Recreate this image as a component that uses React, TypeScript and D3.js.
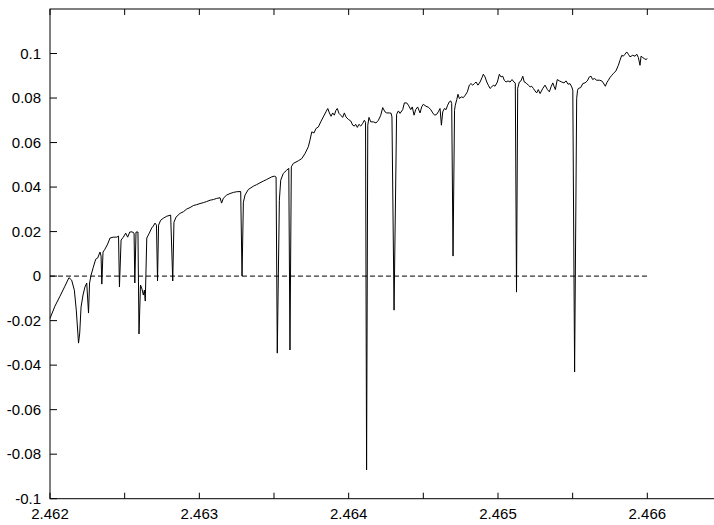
import React from 'react';
import * as d3 from 'd3';

// frequency (x) vs signal (y)
const spectrum: [number, number][] = [
  [2.462000, -0.0190], [2.462033, -0.0135], [2.462067, -0.0090], [2.462100, -0.0045],
  [2.462127, -0.0007], [2.462145, -0.0018], [2.462163, -0.0063], [2.462176, -0.0153],
  [2.462191, -0.0301], [2.462199, -0.0256], [2.462208, -0.0139], [2.462221, -0.0085],
  [2.462234, -0.0049], [2.462246, -0.0031], [2.462258, -0.0166], [2.462265, -0.0031],
  [2.462275, 0.0004], [2.462290, 0.0040], [2.462306, 0.0076], [2.462319, 0.0081],
  [2.462335, 0.0108], [2.462342, 0.0090], [2.462347, -0.0036], [2.462355, 0.0108],
  [2.462368, 0.0121], [2.462386, 0.0144], [2.462402, 0.0171], [2.462424, 0.0175],
  [2.462447, 0.0175], [2.462459, 0.0180], [2.462465, -0.0049], [2.462476, 0.0162],
  [2.462491, 0.0175], [2.462507, 0.0193], [2.462520, 0.0175], [2.462534, 0.0198],
  [2.462549, 0.0199], [2.462563, 0.0193], [2.462568, -0.0031], [2.462576, 0.0198],
  [2.462589, 0.0198], [2.462596, -0.0260], [2.462606, -0.0040], [2.462616, -0.0058],
  [2.462625, -0.0085], [2.462632, -0.0063], [2.462638, -0.0112], [2.462648, 0.0171],
  [2.462665, 0.0193], [2.462681, 0.0216], [2.462692, 0.0225], [2.462703, 0.0238],
  [2.462713, 0.0229], [2.462720, -0.0022], [2.462727, 0.0229], [2.462741, 0.0251],
  [2.462759, 0.0260], [2.462782, 0.0269], [2.462808, 0.0274], [2.462822, -0.0022],
  [2.462830, 0.0242], [2.462844, 0.0265], [2.462871, 0.0282], [2.462893, 0.0289],
  [2.462915, 0.0301], [2.462938, 0.0308], [2.462960, 0.0317], [2.462982, 0.0321],
  [2.463005, 0.0326], [2.463027, 0.0330], [2.463049, 0.0335], [2.463072, 0.0341],
  [2.463094, 0.0344], [2.463116, 0.0349], [2.463139, 0.0352], [2.463149, 0.0328],
  [2.463161, 0.0350], [2.463183, 0.0364], [2.463206, 0.0371], [2.463228, 0.0376],
  [2.463250, 0.0379], [2.463277, 0.0380], [2.463286, 0.0000], [2.463295, 0.0332],
  [2.463306, 0.0364], [2.463328, 0.0389], [2.463362, 0.0404], [2.463384, 0.0411],
  [2.463406, 0.0419], [2.463429, 0.0427], [2.463451, 0.0434], [2.463485, 0.0446],
  [2.463502, 0.0449], [2.463514, 0.0445], [2.463522, -0.0346], [2.463536, 0.0341],
  [2.463545, 0.0431], [2.463562, 0.0461], [2.463585, 0.0476], [2.463599, 0.0484],
  [2.463607, -0.0332], [2.463616, 0.0491], [2.463629, 0.0506], [2.463663, 0.0518],
  [2.463686, 0.0528], [2.463708, 0.0551], [2.463730, 0.0581], [2.463741, 0.0611],
  [2.463753, 0.0648], [2.463768, 0.0643], [2.463781, 0.0663], [2.463797, 0.0670],
  [2.463813, 0.0693], [2.463830, 0.0715], [2.463848, 0.0738], [2.463860, 0.0753],
  [2.463871, 0.0733], [2.463882, 0.0718], [2.463893, 0.0733], [2.463904, 0.0723],
  [2.463915, 0.0745], [2.463924, 0.0753], [2.463935, 0.0731], [2.463947, 0.0723],
  [2.463960, 0.0713], [2.463971, 0.0733], [2.463982, 0.0715], [2.463998, 0.0704],
  [2.464014, 0.0697], [2.464027, 0.0678], [2.464038, 0.0674], [2.464047, 0.0682],
  [2.464058, 0.0668], [2.464069, 0.0682], [2.464081, 0.0674], [2.464094, 0.0686],
  [2.464105, 0.0700], [2.464113, 0.0691], [2.464120, -0.0871], [2.464128, 0.0678],
  [2.464136, 0.0713], [2.464148, 0.0693], [2.464165, 0.0693], [2.464183, 0.0688],
  [2.464199, 0.0700], [2.464215, 0.0723], [2.464228, 0.0757], [2.464243, 0.0738],
  [2.464255, 0.0733], [2.464272, 0.0733], [2.464284, 0.0732], [2.464290, 0.0715],
  [2.464304, -0.0153], [2.464321, 0.0727], [2.464333, 0.0742], [2.464344, 0.0731],
  [2.464362, 0.0748], [2.464373, 0.0778], [2.464389, 0.0778], [2.464400, 0.0768],
  [2.464416, 0.0748], [2.464426, 0.0760], [2.464438, 0.0723], [2.464449, 0.0748],
  [2.464462, 0.0760], [2.464478, 0.0733], [2.464489, 0.0760], [2.464500, 0.0772],
  [2.464518, 0.0763], [2.464533, 0.0759], [2.464550, 0.0748], [2.464563, 0.0733],
  [2.464576, 0.0723], [2.464590, 0.0727], [2.464600, 0.0738], [2.464612, 0.0753],
  [2.464621, 0.0678], [2.464630, 0.0738], [2.464641, 0.0753], [2.464652, 0.0748],
  [2.464663, 0.0768], [2.464674, 0.0783], [2.464684, 0.0787], [2.464690, 0.0775],
  [2.464699, 0.0090], [2.464709, 0.0745], [2.464714, 0.0768], [2.464724, 0.0793],
  [2.464732, 0.0817], [2.464741, 0.0798], [2.464755, 0.0805], [2.464768, 0.0802],
  [2.464781, 0.0813], [2.464795, 0.0828], [2.464808, 0.0858], [2.464819, 0.0865],
  [2.464831, 0.0858], [2.464842, 0.0865], [2.464853, 0.0872], [2.464866, 0.0858],
  [2.464880, 0.0872], [2.464893, 0.0892], [2.464902, 0.0907], [2.464913, 0.0895],
  [2.464925, 0.0872], [2.464935, 0.0858], [2.464947, 0.0843], [2.464958, 0.0850],
  [2.464969, 0.0858], [2.464980, 0.0853], [2.464996, 0.0872], [2.465009, 0.0907],
  [2.465020, 0.0895], [2.465032, 0.0898], [2.465042, 0.0880], [2.465054, 0.0872],
  [2.465067, 0.0877], [2.465081, 0.0872], [2.465094, 0.0883], [2.465107, 0.0872],
  [2.465116, 0.0867], [2.465124, -0.0072], [2.465132, 0.0844], [2.465143, 0.0872],
  [2.465154, 0.0877], [2.465166, 0.0898], [2.465176, 0.0872], [2.465188, 0.0868],
  [2.465203, 0.0858], [2.465215, 0.0850], [2.465226, 0.0853], [2.465237, 0.0843],
  [2.465248, 0.0832], [2.465259, 0.0823], [2.465270, 0.0838], [2.465282, 0.0820],
  [2.465300, 0.0843], [2.465315, 0.0858], [2.465331, 0.0838], [2.465344, 0.0828],
  [2.465355, 0.0850], [2.465367, 0.0868], [2.465375, 0.0853], [2.465384, 0.0838],
  [2.465397, 0.0883], [2.465411, 0.0877], [2.465427, 0.0872], [2.465442, 0.0868],
  [2.465456, 0.0877], [2.465469, 0.0862], [2.465482, 0.0865], [2.465494, 0.0850],
  [2.465501, 0.0835], [2.465513, -0.0431], [2.465527, 0.0799], [2.465533, 0.0835],
  [2.465538, 0.0843], [2.465554, 0.0847], [2.465568, 0.0865], [2.465583, 0.0868],
  [2.465598, 0.0877], [2.465612, 0.0895], [2.465623, 0.0898], [2.465634, 0.0883],
  [2.465645, 0.0888], [2.465661, 0.0880], [2.465679, 0.0880], [2.465695, 0.0877],
  [2.465705, 0.0868], [2.465719, 0.0853], [2.465728, 0.0868], [2.465739, 0.0880],
  [2.465750, 0.0892], [2.465762, 0.0902], [2.465772, 0.0910], [2.465790, 0.0922],
  [2.465806, 0.0947], [2.465817, 0.0970], [2.465829, 0.0992], [2.465839, 0.0988],
  [2.465851, 0.0997], [2.465862, 0.1007], [2.465873, 0.0997], [2.465884, 0.0985],
  [2.465902, 0.0992], [2.465918, 0.0988], [2.465929, 0.0997], [2.465940, 0.0982],
  [2.465951, 0.0947], [2.465958, 0.0988], [2.465969, 0.0982], [2.465980, 0.0977],
  [2.465991, 0.0973], [2.466000, 0.0977],
];

const xTicks = [2.462, 2.4625, 2.463, 2.4635, 2.464, 2.4645, 2.465, 2.4655, 2.466];
const xLabels = [2.462, 2.463, 2.464, 2.465, 2.466];
const yTicks = [-0.1, -0.08, -0.06, -0.04, -0.02, 0, 0.02, 0.04, 0.06, 0.08, 0.1];
const zeroLine = [2.462, 2.466];

const width = 714;
const height = 525;
const left = 50;
const top = 9;
const bottom = 498.7;

export default function App() {
  const x = d3.scaleLinear().domain([2.462, 2.4665]).range([left, left + 4.5 * 149.33]);
  const y = d3.scaleLinear().domain([-0.1, 0.12]).range([bottom, top]);

  const line = d3.line<[number, number]>()
    .x(d => x(d[0]))
    .y(d => y(d[1]));

  const right = x(2.4665);
  const font = '"Liberation Sans", Arial, sans-serif';

  return (
    <svg width={width} height={height}
      style={{ position: 'absolute', left: 0, top: 0, background: '#fff' }}
      fontFamily={font} fontSize={15}>
      {/* frame */}
      <rect x={left} y={top} width={right - left} height={bottom - top}
        fill="none" stroke="#000" strokeWidth={1} />

      {/* x ticks, bottom and top */}
      {xTicks.map(t => (
        <g key={'xt' + t}>
          <line x1={x(t)} x2={x(t)} y1={bottom} y2={bottom - 6} stroke="#000" />
          <line x1={x(t)} x2={x(t)} y1={top} y2={top + 6} stroke="#000" />
        </g>
      ))}
      {xLabels.map(t => (
        <text key={'xl' + t} x={x(t)} y={519} textAnchor="middle" fill="#000">
          {d3.format('.3f')(t)}
        </text>
      ))}

      {/* y ticks */}
      {yTicks.map(t => (
        <g key={'yt' + t}>
          <line x1={left} x2={left + 7} y1={y(t)} y2={y(t)} stroke="#000" />
          <text x={41} y={y(t)} dy="0.35em" textAnchor="end" fill="#000">
            {String(+t.toFixed(2))}
          </text>
        </g>
      ))}

      {/* zero reference */}
      <line x1={x(zeroLine[0])} x2={x(zeroLine[1])} y1={y(0)} y2={y(0)}
        stroke="#000" strokeDasharray="5,3" strokeWidth={1} />

      <path d={line(spectrum) || ''} fill="none" stroke="#000" strokeWidth={1} />
    </svg>
  );
}
